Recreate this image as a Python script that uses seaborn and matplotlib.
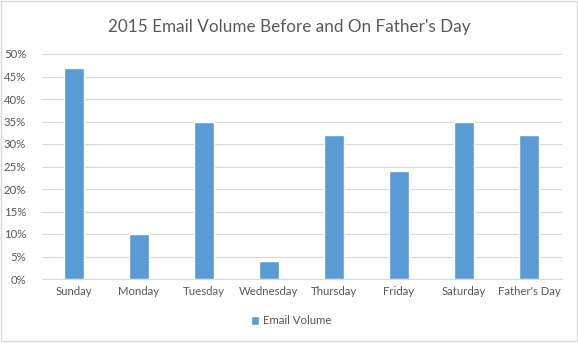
import matplotlib
matplotlib.use("Agg")
import matplotlib.pyplot as plt
import seaborn as sns
import pandas as pd
from matplotlib.patches import Rectangle
from matplotlib.ticker import PercentFormatter

days = ["Sunday", "Monday", "Tuesday", "Wednesday", "Thursday", "Friday", "Saturday", "Father's Day"]
email_volume = [47, 10, 35, 4, 32, 24, 35, 32]
series_name = "Email Volume"
title = "2015 Email Volume Before and On Father's Day"

df = pd.DataFrame({"day": days, "value": email_volume, "series": series_name})

sns.set_theme(style="white")
plt.rcParams['font.family'] = ['Lato', 'DejaVu Sans']

W, H = 578, 347
fig = plt.figure(figsize=(W / 100, H / 100), dpi=100)
ax = fig.add_axes([41.5 / W, 1 - 279 / H, (561.5 - 41.5) / W, (279 - 54) / H])

blue = "#5b9bd5"
grey_text = "#595959"
grid = "#d9d9d9"

sns.barplot(data=df, x="day", y="value", hue="series", palette=[blue], width=0.31,
            ax=ax, saturation=1, legend=True)

ax.set_ylim(0, 50)
ax.set_yticks(range(0, 51, 5))
ax.yaxis.set_major_formatter(PercentFormatter(decimals=0))
ax.set_xlim(-0.5, len(days) - 0.5)
ax.grid(axis="y", color=grid, linewidth=0.8)
ax.set_axisbelow(True)
for s in ["left", "right", "top"]:
    ax.spines[s].set_visible(False)
ax.spines["bottom"].set_color(grid)
ax.spines["bottom"].set_linewidth(0.8)
ax.set_xlabel("")
ax.set_ylabel("")
ax.tick_params(axis="both", length=0, labelsize=8.2, colors=grey_text)
ax.tick_params(axis="y", pad=11)
ax.tick_params(axis="x", pad=5)

leg = ax.legend(loc="center", bbox_to_anchor=((291 - 41.5) / 520, (279 - 321) / (279 - 54)), frameon=False,
                fontsize=8.2, handlelength=0.75, handleheight=0.75, handletextpad=0.3)
for t in leg.get_texts():
    t.set_color(grey_text)

fig.text(0.5, 1 - 27 / H, title, ha="center", va="center", fontsize=12.3, color=grey_text)

fig.patches.append(Rectangle((0.5 / W, 1 - 341 / H), (W - 2) / W, 340 / H, transform=fig.transFigure,
                             fill=False, edgecolor="#d9d9d9", linewidth=1))

fig.savefig("out.png", dpi=100)
